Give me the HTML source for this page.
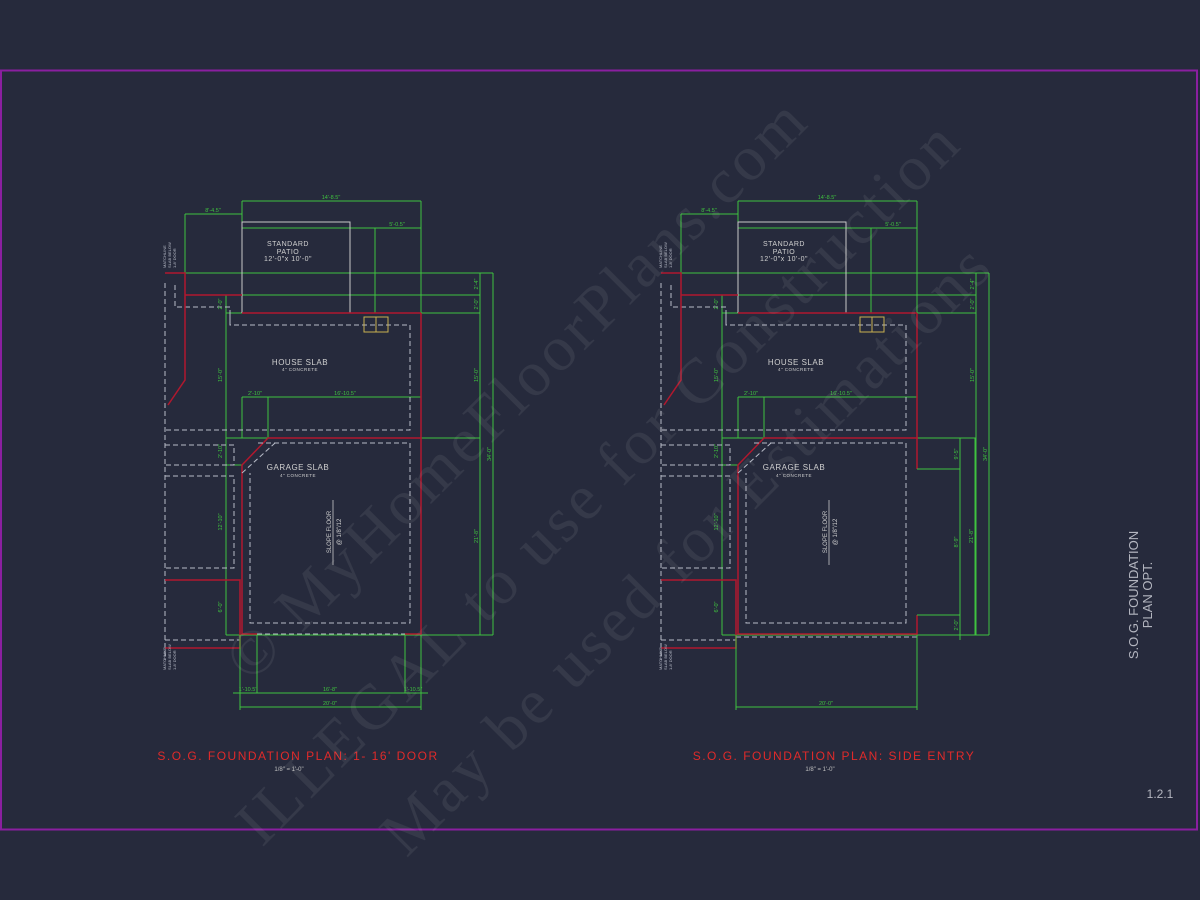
<!DOCTYPE html>
<html><head><meta charset="utf-8"><style>
html,body{margin:0;padding:0;background:#262a3c;}
svg{display:block;font-family:"Liberation Sans",sans-serif;}
</style></head><body>
<svg width="1200" height="900" viewBox="0 0 1200 900" xmlns="http://www.w3.org/2000/svg">
<rect width="1200" height="900" fill="#262a3c"/>
<rect x="1" y="70.5" width="1196" height="759" fill="none" stroke="#8a1fa0" stroke-width="2"/>

<defs>
<g id="plan">
  <g stroke="#3fc23f" stroke-width="1" fill="none">
    <line x1="242" y1="201" x2="421" y2="201"/>
    <line x1="185" y1="214" x2="242" y2="214"/>
    <line x1="242" y1="228" x2="421" y2="228"/>
    <line x1="242" y1="201" x2="242" y2="313"/>
    <line x1="421" y1="201" x2="421" y2="313"/>
    <line x1="375" y1="228" x2="375" y2="313"/>
    <line x1="185" y1="214" x2="185" y2="295"/>
    <line x1="185" y1="273" x2="493" y2="273"/>
    <line x1="242" y1="295" x2="480" y2="295"/>
    <line x1="226" y1="313" x2="480" y2="313"/>
    <line x1="226" y1="295" x2="226" y2="635"/>
    <line x1="480" y1="273" x2="480" y2="635"/>
    <line x1="493" y1="273" x2="493" y2="635"/>
    <line x1="226" y1="438" x2="480" y2="438"/>
    <line x1="242" y1="397" x2="421" y2="397"/>
    <line x1="242" y1="397" x2="242" y2="438"/>
    <line x1="268" y1="397" x2="268" y2="438"/>
    <line x1="226" y1="465" x2="242" y2="465"/>
    <line x1="226" y1="580" x2="240" y2="580"/>
    <line x1="226" y1="635" x2="493" y2="635"/>
  </g>
  <polyline points="242,313 242,222 350,222 350,313" fill="none" stroke="#c8c8c8" stroke-width="1"/>
  <g stroke="#b8bcc8" stroke-width="1" fill="none" stroke-dasharray="5,3">
    <polyline points="230,313 230,325 410,325 410,430 165,430"/>
    <polyline points="175,285 175,307 230,307 230,325"/>
    <polyline points="165,445 234,445 234,465 165,465"/>
    <polyline points="165,476 234,476 234,568 165,568"/>
    <line x1="165" y1="283" x2="165" y2="660"/>
    <line x1="165" y1="640" x2="240" y2="640"/>
  </g>
  <g stroke="#b0182e" stroke-width="1.5" fill="none">
    <polyline points="165,273 185,273 185,380 168,405"/>
    <line x1="185" y1="295" x2="242" y2="295"/>
    <line x1="242" y1="313" x2="421" y2="313"/>
    <polyline points="421,313 421,438 268,438 242,465 242,580"/>
    <polyline points="165,580 240,580 240,648 165,648"/>
  </g>
  <g fill="#d0d0d0" font-size="7" text-anchor="middle" letter-spacing="0.5">
    <text x="288" y="246">STANDARD</text>
    <text x="288" y="254">PATIO</text>
    <text x="288" y="261">12'-0"x 10'-0"</text>
    <text x="300" y="365" font-size="8">HOUSE SLAB</text>
    <text x="300" y="371" font-size="4.5">4" CONCRETE</text>
    <text x="298" y="470" font-size="8">GARAGE SLAB</text>
    <text x="298" y="477" font-size="4.5">4" CONCRETE</text>
  </g>
  <g fill="#3fc23f" font-size="5.5" text-anchor="middle">
    <text x="331" y="199">14'-8.5"</text>
    <text x="213" y="212">8'-4.5"</text>
    <text x="397" y="226">5'-0.5"</text>
    <text x="255" y="395">2'-10"</text>
    <text x="345" y="395">16'-10.5"</text>
  </g>
  <g fill="#3fc23f" font-size="5.5" text-anchor="middle">
    <text transform="translate(222,304) rotate(-90)">2'-0"</text>
    <text transform="translate(222,375) rotate(-90)">15'-0"</text>
    <text transform="translate(222,451) rotate(-90)">2'-10"</text>
    <text transform="translate(222,522) rotate(-90)">12'-10"</text>
    <text transform="translate(222,607) rotate(-90)">6'-0"</text>
    <text transform="translate(478,284) rotate(-90)">2'-4"</text>
    <text transform="translate(478,304) rotate(-90)">2'-0"</text>
    <text transform="translate(478,375) rotate(-90)">15'-0"</text>
    <text transform="translate(491,454) rotate(-90)">34'-0"</text>
  </g>
  <g fill="#b8bcc8" font-size="4">
    <text transform="translate(166,268) rotate(-90)">MATCHLINE</text>
    <text transform="translate(171,268) rotate(-90)">SLAB BELOW</text>
    <text transform="translate(176,268) rotate(-90)">1-8' DOOR</text>
    <text transform="translate(166,670) rotate(-90)">MATCHLINE</text>
    <text transform="translate(171,670) rotate(-90)">SLAB BELOW</text>
    <text transform="translate(176,670) rotate(-90)">1-8' DOOR</text>
  </g>
  <rect x="364" y="317" width="24" height="15" fill="none" stroke="#c8b050" stroke-width="1"/>
  <line x1="376" y1="317" x2="376" y2="332" stroke="#c8b050"/>
  <g stroke="#b8bcc8" stroke-width="1" fill="none" stroke-dasharray="5,3">
    <line x1="242" y1="473" x2="275" y2="443"/>
  </g>
  <line x1="333" y1="500" x2="333" y2="565" stroke="#c8c8c8" stroke-width="0.8"/>
  <text transform="translate(331,532) rotate(-90)" fill="#d0d0d0" font-size="6" text-anchor="middle">SLOPE FLOOR</text>
  <text transform="translate(341,532) rotate(-90)" fill="#d0d0d0" font-size="6" text-anchor="middle">@ 1/8"/12</text>
</g>
</defs>

<use href="#plan"/>
<use href="#plan" transform="translate(496,0)"/>

<g stroke="#b0182e" stroke-width="1.5" fill="none">
  <polyline points="242,580 242,634 257,634"/>
  <polyline points="405,634 421,634 421,438"/>
</g>
<g stroke="#b8bcc8" stroke-width="1" fill="none" stroke-dasharray="5,3">
  <polyline points="258,443 410,443 410,623 250,623 250,473"/>
  <line x1="257" y1="634" x2="405" y2="634"/>
</g>
<g stroke="#3fc23f" stroke-width="1" fill="none">
  <line x1="240" y1="635" x2="240" y2="710"/>
  <line x1="257" y1="635" x2="257" y2="693"/>
  <line x1="405" y1="635" x2="405" y2="693"/>
  <line x1="421" y1="635" x2="421" y2="710"/>
  <line x1="233" y1="693" x2="428" y2="693"/>
  <line x1="240" y1="707" x2="421" y2="707"/>
</g>
<g fill="#3fc23f" font-size="5.5" text-anchor="middle">
  <text x="248" y="691">1'-10.5"</text>
  <text x="330" y="691">16'-8"</text>
  <text x="413" y="691">1'-10.5"</text>
  <text x="330" y="705">20'-0"</text>
  <text transform="translate(478,536) rotate(-90)">21'-8"</text>
</g>

<g stroke="#b0182e" stroke-width="1.5" fill="none">
  <polyline points="738,580 738,634 917,634 917,615"/>
  <line x1="917" y1="438" x2="917" y2="469"/>
</g>
<g stroke="#b8bcc8" stroke-width="1" fill="none" stroke-dasharray="5,3">
  <polyline points="754,443 906,443 906,623 746,623 746,473"/>
  <line x1="736" y1="637" x2="917" y2="637"/>
</g>
<g stroke="#3fc23f" stroke-width="1" fill="none">
  <line x1="917" y1="469" x2="960" y2="469"/>
  <line x1="917" y1="615" x2="960" y2="615"/>
  <line x1="960" y1="438" x2="960" y2="640"/>
  <line x1="975" y1="438" x2="975" y2="635"/>
  <line x1="736" y1="635" x2="736" y2="710"/>
  <line x1="917" y1="635" x2="917" y2="710"/>
  <line x1="736" y1="707" x2="917" y2="707"/>
</g>
<g fill="#3fc23f" font-size="5.5" text-anchor="middle">
  <text x="826" y="705">20'-0"</text>
  <text transform="translate(958,454) rotate(-90)">9'-5"</text>
  <text transform="translate(958,542) rotate(-90)">8'-9"</text>
  <text transform="translate(958,625) rotate(-90)">2'-0"</text>
  <text transform="translate(973,536) rotate(-90)">21'-8"</text>
</g>

<g fill="#e02a2a" font-size="12" letter-spacing="1.5" text-anchor="middle">
  <text x="298" y="760">S.O.G. FOUNDATION PLAN: 1- 16' DOOR</text>
  <text x="834" y="760">S.O.G. FOUNDATION PLAN: SIDE ENTRY</text>
</g>
<g fill="#c0c0c0" font-size="6" text-anchor="middle">
  <text x="289" y="771">1/8" = 1'-0"</text>
  <text x="820" y="771">1/8" = 1'-0"</text>
</g>

<g fill="#b4b6c0" font-size="13" text-anchor="middle">
  <text transform="translate(1138,595) rotate(-90)">S.O.G. FOUNDATION</text>
  <text transform="translate(1152,595) rotate(-90)">PLAN OPT.</text>
</g>
<text x="1160" y="798" fill="#b4b6c0" font-size="12" text-anchor="middle">1.2.1</text>

<g fill="#ffffff" fill-opacity="0.07" font-family="Liberation Serif,serif" font-size="64" text-anchor="middle" lengthAdjust="spacingAndGlyphs">
  <text transform="translate(530,405) rotate(-45)" textLength="790">© MyHomeFloorPlans.com</text>
  <text transform="translate(612,498) rotate(-45)" textLength="990">ILLEGAL to use for Construction</text>
  <text transform="translate(700,565) rotate(-45)" textLength="830">May be used for Estimations</text>
</g>
</svg>
</body></html>
